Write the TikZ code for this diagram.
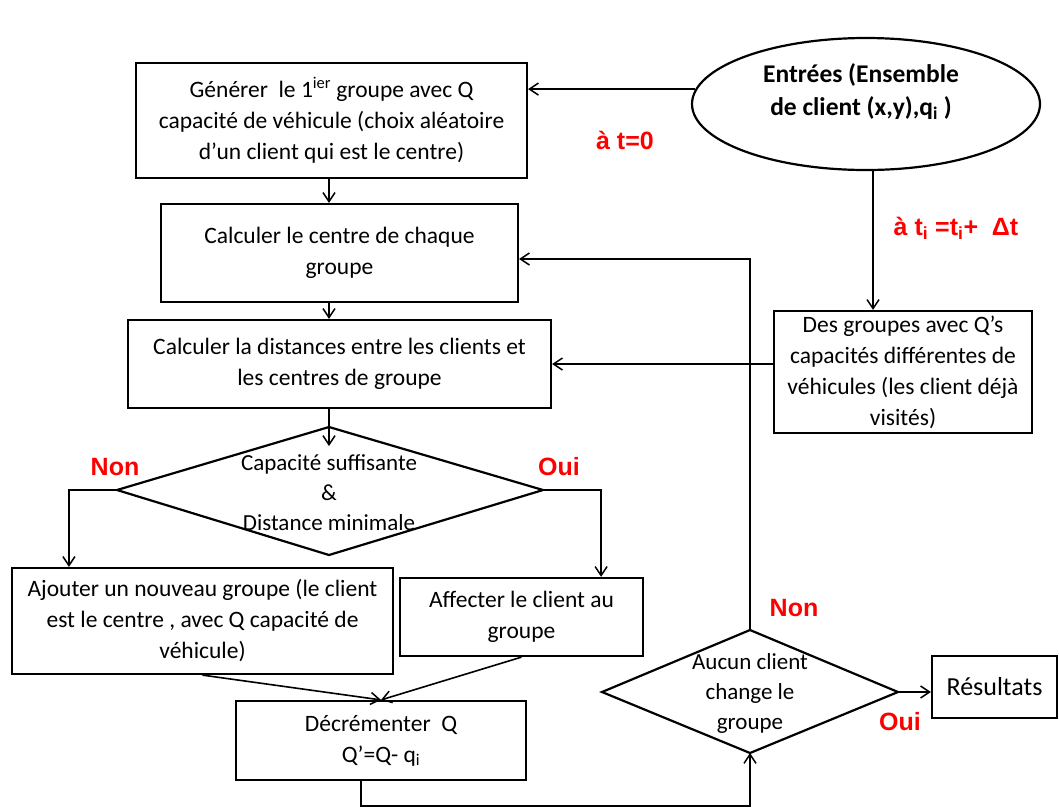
\documentclass[tikz,border=0pt]{standalone}
\usepackage{fontspec}
\setmainfont{Carlito}
\newfontfamily\labfont{Liberation Sans}
\usetikzlibrary{shapes.geometric,arrows.meta,calc}
\begin{document}
\begin{tikzpicture}[x=1pt,y=-1pt,
  box/.style={draw,line width=2.2pt,rectangle,inner sep=0pt,align=center,
    font=\fontsize{23.5}{31}\selectfont},
  conn/.style={line width=1.6pt},
  arr/.style={conn,-{Straight Barb[length=9pt,width=12pt,line width=1.5pt]}},
  lab/.style={text=red,font=\labfont\bfseries\fontsize{25}{28}\selectfont},
  dtext/.style={align=center,font=\fontsize{23}{30}\selectfont},
  dshape/.style={line width=2.2pt,line join=miter}]
\path[use as bounding box] (0,0) rectangle (1059,807);

% process boxes
\node[box,minimum width=391pt,minimum height=115pt] (b1) at (331.5,120.5)
  {Générer\ \ le 1\textsuperscript{ier} groupe avec Q\\capacité de véhicule (choix aléatoire\\d’un client qui est le centre)};
\node[box,minimum width=357pt,minimum height=98pt] (b2) at (339.5,253)
  {Calculer le centre de chaque\\groupe};
\node[box,minimum width=423pt,minimum height=88pt] (b3) at (339.5,364)
  {Calculer la distances entre les clients et\\les centres de groupe};
\node[box,minimum width=258pt,minimum height=122pt] (dg) at (903,372)
  {Des groupes avec Q’s\\capacités différentes de\\véhicules (les client déjà\\visités)};
\node[box,minimum width=381pt,minimum height=106pt] (b4) at (202.5,621)
  {Ajouter un nouveau groupe (le client\\est le centre , avec Q capacité de\\véhicule)};
\node[box,minimum width=243pt,minimum height=78pt] (b5) at (521.5,617)
  {Affecter le client au\\groupe};
\node[box,minimum width=290pt,minimum height=79pt] (b6) at (381,740.5)
  {Décrémenter\ \ Q\\Q’=Q- q\textsubscript{i}};
\node[box,minimum width=125pt,minimum height=62pt,font=\fontsize{26}{31}\selectfont] (res) at (994.5,687)
  {Résultats};

% input ellipse, its text set a little above the centre
\node[ellipse,draw,line width=2.2pt,minimum width=348pt,minimum height=132pt,inner sep=0pt] (e) at (866,104) {};
\node[align=center,font=\bfseries\fontsize{25.5}{33}\selectfont] (et) at (861,92)
  {Entrées (Ensemble\\de client (x,y),q\textsubscript{i} )};

% decision diamonds
\coordinate (d1t) at (329,427);
\coordinate (d1r) at (543,490);
\coordinate (d1b) at (329,555);
\coordinate (d1l) at (117,490);
\draw[dshape] (d1t) -- (d1r) -- (d1b) -- (d1l) -- cycle;
\node[dtext] (d1) at (329,493) {Capacité suffisante\\\&\\Distance minimale};

\coordinate (d2t) at (750,630);
\coordinate (d2r) at (898,692);
\coordinate (d2b) at (750,753);
\coordinate (d2l) at (602,692);
\draw[dshape] (d2t) -- (d2r) -- (d2b) -- (d2l) -- cycle;
\node[dtext] (d2) at (750,693) {Aucun client\\change le\\groupe};

% main vertical line of the flow
\coordinate (spine) at (329,0);

% connectors
\draw[arr] (e.175) -- (e.175 -| b1.east);
\draw[arr] (e.276) -- (e.276 |- dg.north);
\draw[arr] (b1.south -| spine) -- (b2.north -| spine);
\draw[arr] (b2.south -| spine) -- (b3.north -| spine);
\draw[arr] (b3.south -| spine) -- ($(d1t)+(0,19)$);
\draw[arr] (dg.west |- b3.east) -- (b3.east);
\draw[arr,line width=2pt] (d1l) -| ($(b4.north west)+(58,0)$);
\draw[arr,line width=2pt] (d1r) -| ($(b5.north east)+(-43,0)$);
\draw[arr] (b4.south) -- (b6.north);
\draw[arr] (b5.south) -- (b6.north);
\draw[arr,line width=2pt] ($(b6.south)+(-20,0)$) -- ++(0,25) -| (d2b);
\draw[arr,line width=2pt] (d2t) |- ($(b2.east)+(0,6)$);
\draw[arr] (d2r) -- (d2r -| res.west);

% branch and timing labels
\node[lab] (t0) at (625,140) {à t=0};
\node[lab] (ti) at (956,228) {à t\textsubscript{i} =t\textsubscript{i}+\ \ Δt};
\node[lab] (non1) at (115,467) {Non};
\node[lab] (oui1) at (559,467) {Oui};
\node[lab] (non2) at (794,608) {Non};
\node[lab] (oui2) at (900,722) {Oui};
\end{tikzpicture}
\end{document}
